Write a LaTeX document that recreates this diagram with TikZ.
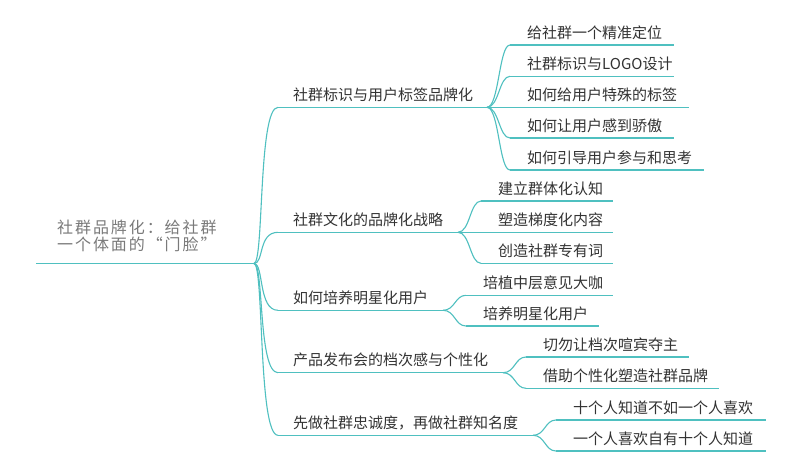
\documentclass[tikz,border=0pt]{standalone}
\usepackage{fontspec}
\setmainfont{Noto Sans CJK SC}
\newfontfamily\rootfont[LetterSpace=12]{Noto Sans CJK SC}
\usetikzlibrary{calc}
\definecolor{branch}{HTML}{4FC0C0}
\definecolor{txt}{HTML}{333333}
\definecolor{roottxt}{HTML}{7A7A7A}
\tikzset{
  link/.style={draw=branch, line width=1.1pt},
  lbl/.style={anchor=base west, inner sep=0pt, text=txt, font=\fontsize{15pt}{18pt}\selectfont},
  rootlbl/.style={anchor=base west, inner sep=0pt, text=roottxt, font=\rootfont\fontsize{16pt}{18pt}\selectfont}
}
\newcommand\rootcurve[2]{\draw[link] (#1) .. controls ($(#1)+(10,0)$) and ($(#2)+(-20,0)$) .. (#2);}
\newcommand\subcurve[2]{\draw[link] (#1) .. controls ($(#1)+(12,0)$) and ($(#2)+(-11,0)$) .. (#2);}
\begin{document}
\begin{tikzpicture}[x=1pt,y=-1pt]
\useasboundingbox[fill=white] (0,0) rectangle (800,472);

% root
\coordinate (r0) at (36,263.5);
\coordinate (r1) at (254,263.5);
\node[rootlbl] (root) at (57,233.6) {社群品牌化：给社群};
\node[rootlbl] (rootb) at (57,250.1) {一个体面的“门脸”};
\draw[link] (r0) -- (r1);

% level 1
\coordinate (a1s) at (278,107.3); \coordinate (a1e) at (487,107.3);
\coordinate (a2s) at (278,232.3); \coordinate (a2e) at (458,232.3);
\coordinate (a3s) at (278,310.3); \coordinate (a3e) at (443,310.3);
\coordinate (a4s) at (278,372.7); \coordinate (a4e) at (503,372.7);
\coordinate (a5s) at (278,435.3); \coordinate (a5e) at (533,435.3);
\node[lbl] (a1) at (293,100.3) {社群标识与用户标签品牌化};
\node[lbl] (a2) at (293,225.3) {社群文化的品牌化战略};
\node[lbl] (a3) at (293,303.3) {如何培养明星化用户};
\node[lbl] (a4) at (293,365.7) {产品发布会的档次感与个性化};
\node[lbl] (a5) at (293,428.3) {先做社群忠诚度，再做社群知名度};
\foreach \i in {1,...,5}{
  \rootcurve{r1}{a\i s}
  \draw[link] (a\i s) -- (a\i e);
}

% branch 1 children
\coordinate (b11s) at (510,45);    \coordinate (b11e) at (674,45);
\coordinate (b12s) at (510,76.3);  \coordinate (b12e) at (674,76.3);
\coordinate (b13s) at (510,107.3); \coordinate (b13e) at (689,107.3);
\coordinate (b14s) at (510,138);   \coordinate (b14e) at (674,138);
\coordinate (b15s) at (510,170);   \coordinate (b15e) at (704,170);
\node[lbl] (b11) at (527,38)    {给社群一个精准定位};
\node[lbl] (b12) at (527,69.3)  {社群标识与LOGO设计};
\node[lbl] (b13) at (527,100.3) {如何给用户特殊的标签};
\node[lbl] (b14) at (527,131)   {如何让用户感到骄傲};
\node[lbl] (b15) at (527,163)   {如何引导用户参与和思考};
\foreach \j in {1,...,5}{
  \subcurve{a1e}{b1\j s}
  \draw[link] (b1\j s) -- (b1\j e);
}

% branch 2 children
\coordinate (b21s) at (481,201);   \coordinate (b21e) at (613,201);
\coordinate (b22s) at (481,232.3); \coordinate (b22e) at (613,232.3);
\coordinate (b23s) at (481,263.3); \coordinate (b23e) at (613,263.3);
\node[lbl] (b21) at (498,194)   {建立群体化认知};
\node[lbl] (b22) at (498,225.3) {塑造梯度化内容};
\node[lbl] (b23) at (498,256.3) {创造社群专有词};
\foreach \j in {1,...,3}{
  \subcurve{a2e}{b2\j s}
  \draw[link] (b2\j s) -- (b2\j e);
}

% branch 3 children
\coordinate (b31s) at (466,295.3); \coordinate (b31e) at (613,295.3);
\coordinate (b32s) at (466,326);   \coordinate (b32e) at (599,326);
\node[lbl] (b31) at (483,288.3) {培植中层意见大咖};
\node[lbl] (b32) at (483,319)   {培养明星化用户};
\foreach \j in {1,2}{
  \subcurve{a3e}{b3\j s}
  \draw[link] (b3\j s) -- (b3\j e);
}

% branch 4 children
\coordinate (b41s) at (526,357);   \coordinate (b41e) at (689,357);
\coordinate (b42s) at (526,388.3); \coordinate (b42e) at (719,388.3);
\node[lbl] (b41) at (543,350)   {切勿让档次喧宾夺主};
\node[lbl] (b42) at (543,381.3) {借助个性化塑造社群品牌};
\foreach \j in {1,2}{
  \subcurve{a4e}{b4\j s}
  \draw[link] (b4\j s) -- (b4\j e);
}

% branch 5 children
\coordinate (b51s) at (556,420);   \coordinate (b51e) at (766,420);
\coordinate (b52s) at (556,451);   \coordinate (b52e) at (766,451);
\node[lbl] (b51) at (573,413)   {十个人知道不如一个人喜欢};
\node[lbl] (b52) at (573,444)   {一个人喜欢自有十个人知道};
\foreach \j in {1,2}{
  \subcurve{a5e}{b5\j s}
  \draw[link] (b5\j s) -- (b5\j e);
}
\end{tikzpicture}
\end{document}
